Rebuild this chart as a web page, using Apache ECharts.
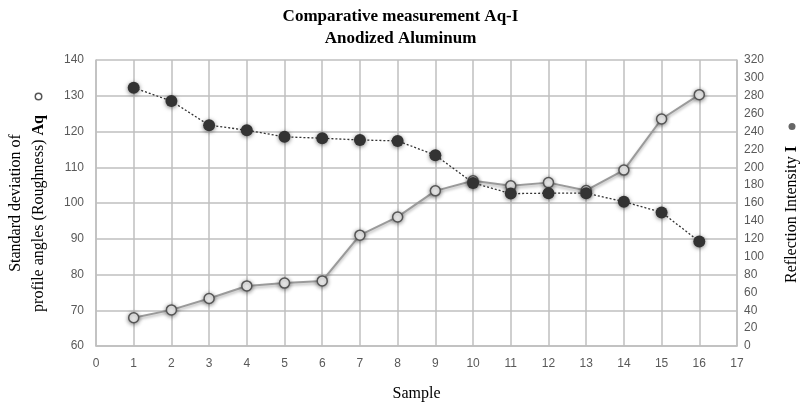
<!DOCTYPE html>
<html>
<head>
    <meta charset="utf-8">
    <title>Comparative measurement Aq-I</title>
    <script src="https://cdn.jsdelivr.net/npm/echarts@6/dist/echarts.min.js"></script>
    <style>
        body { margin: 0; background: #fff; }
    </style>
</head>
<body>
    <div id="main" style="width: 801px;height:402px;"></div>
    <script type="text/javascript">
        // sample numbers on the x axis
        var samples = [1, 2, 3, 4, 5, 6, 7, 8, 9, 10, 11, 12, 13, 14, 15, 16];
        // Aq (roughness), left axis
        var aqValues = [67.9, 70.1, 73.3, 76.8, 77.6, 78.2, 91.0, 96.1, 103.4, 106.2, 104.8, 105.7, 103.5, 109.2, 123.5, 130.3];
        // reflection intensity I, right axis
        var intensityValues = [289, 274, 247, 241.5, 234, 232.5, 230.5, 229.5, 213.5, 182.5, 170.5, 171, 171, 161.5, 149.5, 117];

        function pairs(xs, ys) {
            var arr = [];
            for (var i = 0; i < xs.length; i++) {
                arr.push([xs[i], ys[i]]);
            }
            return arr;
        }

        var serif = "'Liberation Serif', 'DejaVu Serif', serif";
        var sans = "'Liberation Sans', Arial, sans-serif";

        var myChart = echarts.init(document.getElementById('main'));

        var option = {
            backgroundColor: '#fff',
            animation: false,
            title: {
                text: 'Comparative measurement Aq-I\nAnodized Aluminum',
                left: 'center',
                top: 1,
                textStyle: {
                    fontFamily: serif,
                    fontWeight: 'bold',
                    fontSize: 17,
                    lineHeight: 22,
                    color: '#000'
                }
            },
            grid: {
                left: 96,
                right: 64,
                top: 60,
                bottom: 56,
                outerBoundsMode: 'none'
            },
            xAxis: {
                type: 'value',
                min: 0,
                max: 17,
                interval: 1,
                name: 'Sample',
                nameLocation: 'middle',
                nameGap: 40,
                nameTextStyle: { fontFamily: serif, fontSize: 16, color: '#000' },
                axisLine: { show: true, lineStyle: { color: '#bfbfbf', width: 1.5 } },
                axisTick: { show: false },
                axisLabel: { fontFamily: sans, fontSize: 12, color: '#595959', margin: 12 },
                splitLine: { show: true, lineStyle: { color: '#bfbfbf', width: 1.5 } }
            },
            yAxis: [{
                type: 'value',
                min: 60,
                max: 140,
                interval: 10,
                position: 'left',
                name: '{l1|Standard deviation of}\n{l2|profile angles (Roughness) }{b|Aq}    {o|}',
                nameLocation: 'middle',
                nameRotate: 90,
                nameGap: 46,
                nameTextStyle: {
                    fontFamily: serif,
                    fontSize: 16,
                    color: '#000',
                    lineHeight: 23,
                    rich: {
                        l1: { fontFamily: serif, fontSize: 16, color: '#000' },
                        l2: { fontFamily: serif, fontSize: 16, color: '#000' },
                        b: { fontFamily: serif, fontSize: 16, fontWeight: 'bold', color: '#000' },
                        o: { width: 5, height: 5, borderRadius: 5, borderWidth: 1.5, borderColor: '#555', backgroundColor: '#fff' }
                    }
                },
                axisLine: { show: true, lineStyle: { color: '#bfbfbf', width: 1.5 } },
                axisTick: { show: false },
                axisLabel: { fontFamily: sans, fontSize: 12, color: '#595959', margin: 12 },
                splitLine: { show: true, lineStyle: { color: '#bfbfbf', width: 1.5 } }
            }, {
                type: 'value',
                min: 0,
                max: 320,
                interval: 20,
                position: 'right',
                name: 'Reflection Intensity {b|I}    {d|}',
                nameLocation: 'middle',
                nameRotate: 90,
                nameGap: 47,
                nameTextStyle: {
                    fontFamily: serif,
                    fontSize: 16,
                    color: '#000',
                    rich: {
                        b: { fontFamily: serif, fontSize: 16, fontWeight: 'bold', color: '#000' },
                        d: { width: 7, height: 7, borderRadius: 5, backgroundColor: '#666' }
                    }
                },
                axisLine: { show: true, lineStyle: { color: '#bfbfbf', width: 1.5 } },
                axisTick: { show: false },
                axisLabel: { fontFamily: sans, fontSize: 12, color: '#595959', margin: 7 },
                splitLine: { show: false }
            }],
            series: [{
                name: 'Aq',
                type: 'line',
                yAxisIndex: 0,
                data: pairs(samples, aqValues),
                symbol: 'circle',
                symbolSize: 10,
                lineStyle: {
                    color: '#9a9a9a',
                    width: 2,
                    shadowColor: 'rgba(0,0,0,0.3)',
                    shadowBlur: 3,
                    shadowOffsetY: 2
                },
                itemStyle: {
                    color: '#f2f2f2',
                    borderColor: '#555',
                    borderWidth: 1.5,
                    shadowColor: 'rgba(0,0,0,0.45)',
                    shadowBlur: 4,
                    shadowOffsetY: 1
                },
                z: 2
            }, {
                name: 'Reflection Intensity',
                type: 'line',
                yAxisIndex: 1,
                data: pairs(samples, intensityValues),
                symbol: 'circle',
                symbolSize: 12,
                lineStyle: {
                    color: '#333',
                    width: 1.3,
                    type: [2, 2]
                },
                itemStyle: {
                    color: '#333',
                    borderWidth: 0,
                    shadowColor: 'rgba(0,0,0,0.5)',
                    shadowBlur: 4,
                    shadowOffsetY: 1
                },
                z: 3
            }]
        };

        myChart.setOption(option);
    </script>
</body>
</html>
